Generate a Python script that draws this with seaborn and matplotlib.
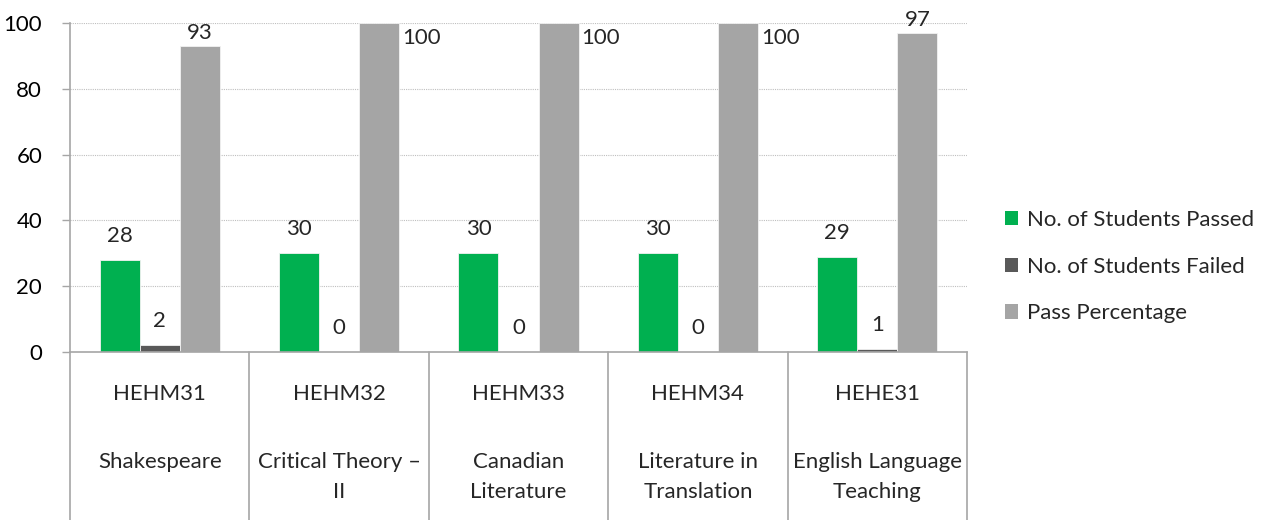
#!/usr/bin/env python3
"""
Course results chart: passed / failed counts and pass percentage per course.
"""
import pandas as pd
import matplotlib.pyplot as plt
import seaborn as sns
from matplotlib.patches import Patch
from matplotlib.transforms import blended_transform_factory

# data
codes = ["HEHM31", "HEHM32", "HEHM33", "HEHM34", "HEHE31"]
titles = ["Shakespeare", "Critical Theory –\nII", "Canadian\nLiterature",
          "Literature in\nTranslation", "English Language\nTeaching"]
series = ["No. of Students Passed", "No. of Students Failed", "Pass Percentage"]
passed = [28, 30, 30, 30, 29]
failed = [2, 0, 0, 0, 1]
pass_pct = [93, 100, 100, 100, 97]
yticks = [0, 20, 40, 60, 80, 100]

colors = ["#00B050", "#595959", "#A5A5A5"]
AXIS_GREY = "#A6A6A6"
FS = 16

sns.set_theme(style="white")
plt.rcParams["font.family"] = ["Lato", "DejaVu Sans"]

df = pd.DataFrame({
    "course": codes * 3,
    "series": [series[0]] * 5 + [series[1]] * 5 + [series[2]] * 5,
    "value": passed + failed + pass_pct,
})

W, H = 1264, 520
fig = plt.figure(figsize=(W / 100, H / 100), dpi=100)
ax = fig.add_axes([70 / W, 1 - 352 / H, 897 / W, 329 / H])

sns.barplot(data=df, x="course", y="value", hue="series", palette=colors,
            saturation=1, width=0.67, gap=0, ax=ax, edgecolor="#F2F2F2",
            linewidth=0.6, legend=False, errorbar=None)

ax.set_xlim(-0.5, 4.5)
ax.set_ylim(0, 100)
ax.set_yticks(yticks)
ax.set_yticklabels([str(t) for t in yticks], fontsize=FS, color="black")
ax.set_xticks([])
ax.set_xlabel("")
ax.set_ylabel("")
ax.set_axisbelow(True)
ax.yaxis.grid(True, linestyle=(0, (1, 1)), color="#BFBFBF", linewidth=0.8)
for s in ["top", "right"]:
    ax.spines[s].set_visible(False)
for s in ["left", "bottom"]:
    ax.spines[s].set_color(AXIS_GREY)
    ax.spines[s].set_linewidth(1.2)
ax.tick_params(axis="y", length=6, width=1, color=AXIS_GREY, pad=14, left=True)

# value labels
for cont in ax.containers:
    for bar in cont:
        v = bar.get_height()
        cx = bar.get_x() + bar.get_width() / 2
        if v >= 100:
            ax.annotate(f"{v:.0f}", (bar.get_x() + bar.get_width(), 100),
                        xytext=(3, -5), textcoords="offset pixels",
                        ha="left", va="top", fontsize=FS, annotation_clip=False)
        else:
            off = 14 if v < 90 else 3
            ax.annotate(f"{v:.0f}", (cx, v), xytext=(0, off),
                        textcoords="offset pixels", ha="center", va="bottom",
                        fontsize=FS, annotation_clip=False)

# multi-level category axis
trans = blended_transform_factory(ax.transData, ax.transAxes)
for x in [i - 0.5 for i in range(len(codes) + 1)]:
    ax.plot([x, x], [0, -0.53], transform=trans, color=AXIS_GREY,
            linewidth=1.2, clip_on=False)
for i, (code, title) in enumerate(zip(codes, titles)):
    ax.annotate(code, (i, 0), xycoords=trans, xytext=(0, -42),
                textcoords="offset pixels", ha="center", va="center",
                fontsize=FS, annotation_clip=False)
    ax.annotate(title, (i, 0), xycoords=trans, xytext=(0, -100),
                textcoords="offset pixels", ha="center", va="top",
                fontsize=FS, linespacing=1.65, annotation_clip=False)

# legend
handles = [Patch(facecolor=c, edgecolor="none") for c in colors]
fig.legend(handles, series, loc="upper left", bbox_to_anchor=(985 / W, 1 - 190 / H),
           frameon=False, fontsize=FS, handlelength=0.6, handleheight=0.6,
           handletextpad=0.4, labelspacing=1.2)

plt.savefig("out.png", dpi=100)
plt.close()
